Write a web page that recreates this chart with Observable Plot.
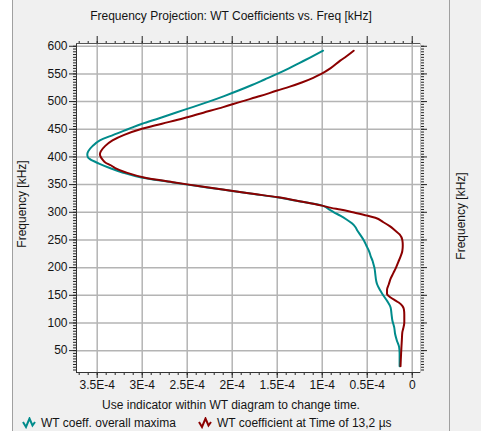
<!DOCTYPE html>
<html>
<head>
<meta charset="utf-8">
<script src="https://cdn.jsdelivr.net/npm/d3@7"></script>
<script src="https://cdn.jsdelivr.net/npm/@observablehq/plot@0.6"></script>
<style>
  html, body { margin: 0; padding: 0; background: #ffffff; }
  #panel {
    position: relative; width: 481px; height: 431px; overflow: hidden;
    background: #f0f0f0;
    font-family: "Liberation Sans", Arial, sans-serif; font-size: 12px; color: #141414;
  }
  #strip { position: absolute; left: 0; top: 0; width: 12px; height: 431px; background: #ffffff; border-right: 1px solid #a0a0a0; }
  #edgeR { position: absolute; left: 449px; top: 0; width: 1px; height: 431px; background: #a0a0a0; }
  #chart { position: absolute; left: 0; top: 0; }
  .txt { position: absolute; white-space: nowrap; line-height: 14px; }
  #title { top: 9px; left: 0; width: 462px; text-align: center; }
  #caption { top: 398px; left: 0; width: 462px; text-align: center; }
  .vlabel { position: absolute; white-space: nowrap; line-height: 14px; transform: translate(-50%, -50%) rotate(-90deg); }
  #legend { position: absolute; top: 416px; left: 22px; height: 14px; }
  .item { position: absolute; top: 0; white-space: nowrap; line-height: 14px; }
  .item svg { position: absolute; top: 1px; left: 0; }
  .item span { position: absolute; top: 0; }
</style>
</head>
<body>
<div id="panel">
  <div id="strip"></div>
  <div id="edgeR"></div>
  <div id="chart"></div>
  <div class="txt" id="title">Frequency Projection: WT Coefficients vs. Freq [kHz]</div>
  <div class="vlabel" style="left:22px; top:204px;">Frequency [kHz]</div>
  <div class="vlabel" style="left:461px; top:216px;">Frequency [kHz]</div>
  <div class="txt" id="caption">Use indicator within WT diagram to change time.</div>
  <div id="legend"></div>
</div>
<script>
// WT coefficient magnitudes are stored in units of 1E-4; frequencies in kHz.
const maximaFreq = [592, 580, 570, 560, 550, 540, 530, 520, 510, 500, 490, 480, 470, 460, 450, 440, 430, 420, 410, 405,
  400, 396, 388, 380, 372, 363, 355, 350, 345, 339, 333, 327, 320, 312, 305, 300, 294, 287, 280, 273,
  267, 260, 250, 240, 230, 220, 212, 206, 200, 188, 176, 170, 160, 152, 140, 128, 116, 104, 92, 80,
  68, 56, 45, 35, 22];
const maximaCoeff = [0.99, 1.13, 1.25, 1.37, 1.50, 1.64, 1.78, 1.93, 2.09, 2.26, 2.44, 2.63, 2.81, 3.00, 3.16, 3.32, 3.47, 3.55, 3.60, 3.61,
  3.605, 3.58, 3.48, 3.36, 3.22, 3.01, 2.70, 2.50, 2.28, 2.02, 1.76, 1.50, 1.26, 1.00, 0.92, 0.87, 0.80, 0.73, 0.67, 0.63,
  0.61, 0.58, 0.54, 0.51, 0.48, 0.46, 0.44, 0.43, 0.42, 0.41, 0.40, 0.39, 0.36, 0.33, 0.28, 0.24, 0.23, 0.22, 0.20, 0.19,
  0.17, 0.145, 0.14, 0.14, 0.14];

const timeFreq = [592, 582, 574, 560, 550, 543, 535, 527, 520, 510, 500, 490, 480, 470, 460, 450, 440, 430, 420, 410,
  405, 400, 395, 390, 385, 380, 372, 363, 355, 350, 345, 339, 333, 327, 320, 312, 308, 305, 300, 294,
  290, 282, 275, 267, 260, 250, 240, 230, 220, 210, 200, 190, 180, 170, 160, 153, 146, 141, 137, 131,
  125, 115, 101, 90, 83, 70, 56, 40, 22];
const timeCoeff = [0.65, 0.73, 0.80, 0.91, 1.01, 1.10, 1.22, 1.36, 1.50, 1.69, 1.90, 2.10, 2.32, 2.54, 2.78, 3.02, 3.20, 3.33, 3.41, 3.46,
  3.47, 3.46, 3.44, 3.41, 3.35, 3.30, 3.18, 2.98, 2.68, 2.48, 2.26, 2.01, 1.75, 1.49, 1.25, 1.00, 0.90, 0.80, 0.66, 0.50,
  0.41, 0.32, 0.25, 0.19, 0.14, 0.11, 0.105, 0.11, 0.13, 0.155, 0.18, 0.21, 0.24, 0.26, 0.28, 0.28, 0.24, 0.19, 0.15, 0.11,
  0.093, 0.088, 0.088, 0.10, 0.11, 0.115, 0.12, 0.125, 0.13];

const seriesNames = ["WT coeff. overall maxima", "WT coefficient at Time of 13,2 µs"];
const seriesColors = ["#008b8b", "#8b0000"];

const xTicks = [3.5, 3, 2.5, 2, 1.5, 1, 0.5, 0];
const xTickLabels = ["3.5E-4", "3E-4", "2.5E-4", "2E-4", "1.5E-4", "1E-4", "0.5E-4", "0"];
const yTicks = [50, 100, 150, 200, 250, 300, 350, 400, 450, 500, 550, 600];

const maxima = maximaFreq.map((f, i) => ({f, v: maximaCoeff[i]}));
const atTime = timeFreq.map((f, i) => ({f, v: timeCoeff[i]}));

const xMinor = d3.range(0, 38).map(i => i / 10);
const yMinor = d3.range(15, 605, 5);
const blank = () => "";
const tickInk = "#222";

const chart = Plot.plot({
  width: 481,
  height: 431,
  marginLeft: 76,
  marginRight: 61,
  marginTop: 43,
  marginBottom: 59,
  style: {background: "transparent", fontFamily: "'Liberation Sans', Arial, sans-serif", fontSize: "12px", color: "#141414", overflow: "visible"},
  x: {domain: [3.73, -0.092]},
  y: {domain: [10.5, 605]},
  marks: [
    Plot.frame({fill: "white", stroke: null}),
    Plot.gridX(xTicks, {stroke: "#b4b4b4", strokeOpacity: 1, strokeWidth: 1.5}),
    Plot.gridY(yTicks, {stroke: "#b4b4b4", strokeOpacity: 1, strokeWidth: 1.5}),
    // bottom axis
    Plot.axisX(xMinor, {anchor: "bottom", tickSize: 3, tickFormat: blank, label: null, stroke: tickInk}),
    Plot.axisX(xTicks, {anchor: "bottom", tickSize: 6, tickPadding: 2, label: null, stroke: tickInk,
      tickFormat: d => xTickLabels[xTicks.indexOf(d)]}),
    // top axis (ticks only)
    Plot.axisX(xMinor, {anchor: "top", tickSize: 3, tickFormat: blank, label: null, stroke: tickInk}),
    Plot.axisX(xTicks, {anchor: "top", tickSize: 8, tickFormat: blank, label: null, stroke: tickInk}),
    // left axis
    Plot.axisY(yMinor, {anchor: "left", tickSize: 3, tickFormat: blank, label: null, stroke: tickInk}),
    Plot.axisY(yTicks, {anchor: "left", tickSize: 7, tickPadding: 2, label: null, stroke: tickInk}),
    // right axis (ticks only)
    Plot.axisY(yMinor, {anchor: "right", tickSize: 3, tickFormat: blank, label: null, stroke: tickInk}),
    Plot.axisY(yTicks, {anchor: "right", tickSize: 6, tickFormat: blank, label: null, stroke: tickInk}),
    // frequency decreases monotonically along each profile, so smooth along y
    Plot.line(maxima, {x: "v", y: "f", stroke: seriesColors[0], strokeWidth: 2, curve: "monotone-y"}),
    Plot.line(atTime, {x: "v", y: "f", stroke: seriesColors[1], strokeWidth: 2, curve: "monotone-y"}),
    Plot.frame({anchor: "left", stroke: "#333"}),
    Plot.frame({anchor: "bottom", stroke: "#333"}),
    Plot.frame({anchor: "top", stroke: "#555"}),
    Plot.frame({anchor: "right", stroke: "#c0c0c0"})
  ]
});
document.getElementById("chart").appendChild(chart);

// legend entries with a small wave glyph
const legend = d3.select("#legend");
const offsets = [0, 176];
seriesNames.forEach((name, i) => {
  const item = legend.append("div").attr("class", "item").style("left", offsets[i] + "px");
  const svg = item.append("svg").attr("width", 14).attr("height", 12);
  svg.append("polyline")
    .attr("points", "1,5 4,10 7.5,1.5 10.5,8.5 13,5")
    .attr("fill", "none").attr("stroke", seriesColors[i]).attr("stroke-width", 2)
    .attr("stroke-linejoin", "miter");
  item.append("span").style("left", "19px").text(name);
});
</script>
</body>
</html>
